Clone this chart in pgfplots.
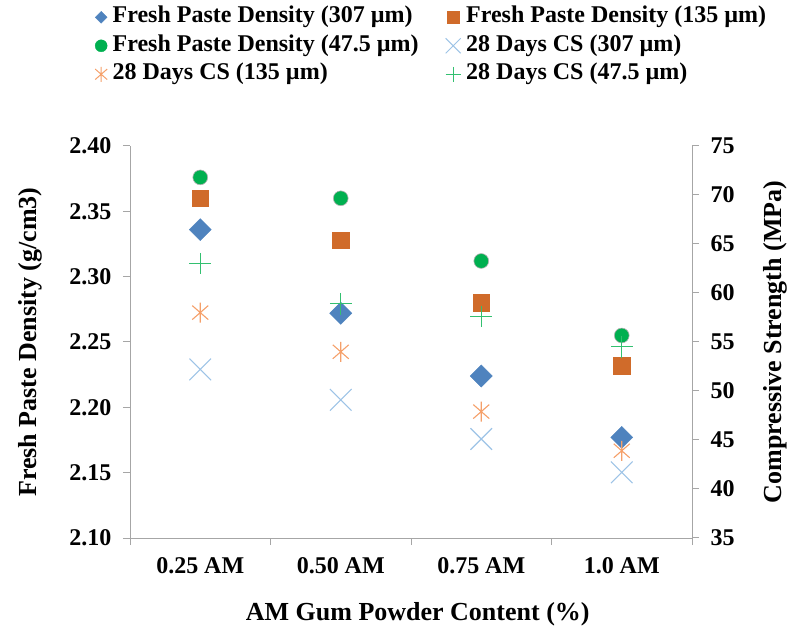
\documentclass[border=0pt]{standalone}
\usepackage{fontspec}
\setmainfont{Liberation Serif}
\usepackage{pgfplots}
\pgfplotsset{compat=1.18}
\definecolor{cDia}{HTML}{4F83BE}
\definecolor{cSq}{HTML}{D06B2A}
\definecolor{cCir}{HTML}{00B050}
\definecolor{cX}{HTML}{9DC3E6}
\definecolor{cAst}{HTML}{F5A06A}
\definecolor{cPlus}{HTML}{33C070}
\definecolor{axisgray}{HTML}{A6A6A6}
\pgfdeclareplotmark{excelstar}{%
  \pgfpathmoveto{\pgfqpoint{0pt}{\pgfplotmarksize}}%
  \pgfpathlineto{\pgfqpoint{0pt}{-\pgfplotmarksize}}%
  \pgfpathmoveto{\pgfqpoint{-.8\pgfplotmarksize}{.7\pgfplotmarksize}}%
  \pgfpathlineto{\pgfqpoint{.8\pgfplotmarksize}{-.7\pgfplotmarksize}}%
  \pgfpathmoveto{\pgfqpoint{-.8\pgfplotmarksize}{-.7\pgfplotmarksize}}%
  \pgfpathlineto{\pgfqpoint{.8\pgfplotmarksize}{.7\pgfplotmarksize}}%
  \pgfusepathqstroke}
\newcommand\tickfont{\fontsize{24bp}{28bp}\selectfont\bfseries}
\newcommand\labfont{\fontsize{26bp}{30bp}\selectfont\bfseries}
\pgfplotsset{
  common/.style={
    width=562bp, height=392bp, scale only axis,
    at={(130bp,93bp)}, anchor=south west,
    xmin=-0.5, xmax=3.5,
    axis line style={draw=axisgray, line width=1bp},
    tick style={draw=axisgray, line width=1bp},
    major tick length=7bp, tick align=outside,
    ticklabel style={font=\tickfont},
    /pgf/number format/assume math mode=true,
    label style={font=\labfont},
  },
}
\begin{document}
\begin{tikzpicture}
\path[use as bounding box] (0,0) rectangle (787bp,631bp);
\begin{axis}[common,
  axis x line*=bottom, axis y line*=left,
  ymin=2.10, ymax=2.40,
  ytick={2.10,2.15,2.20,2.25,2.30,2.35,2.40},
  yticklabel style={xshift=-8bp, /pgf/number format/.cd, fixed, fixed zerofill, precision=2},
  xtick={-0.5,0.5,1.5,2.5,3.5}, xticklabels={},
  extra x ticks={0,1,2,3},
  extra x tick labels={0.25 AM,0.50 AM,0.75 AM,1.0 AM},
  extra x tick style={major tick length=0pt, xticklabel style={yshift=-16bp}},
  xlabel={AM Gum Powder Content (\%)},
  xlabel style={at={(axis description cs:0.512,-0.1934)}, anchor=center},
  ylabel={Fresh Paste Density (g/cm3)},
  ylabel style={at={(axis description cs:-0.178,0.5)}, anchor=center},
  legend columns=2, legend cell align=left,
  legend style={at={(axis description cs:-0.0623,1.3556)}, anchor=north west,
    draw=none, fill=none, inner sep=0pt, font=\tickfont,
    row sep=7.5bp, column sep=5.5bp,
    /tikz/every even column/.append style={column sep=27bp},
    nodes={inner sep=0pt, text height=16bp, text depth=5bp}},
]
\addlegendimage{only marks, mark=square*, mark size=4.2bp, mark options={rotate=45, fill=cDia, draw=cDia}}
\addlegendentry{Fresh Paste Density (307 µm)}
\addlegendimage{only marks, mark=square*, mark size=6bp, mark options={fill=cSq, draw=cSq}}
\addlegendentry{Fresh Paste Density (135 µm)}
\addlegendimage{only marks, mark=*, mark size=6bp, mark options={fill=cCir, draw=cCir}}
\addlegendentry{Fresh Paste Density (47.5 µm)}
\addlegendimage{only marks, mark=x, mark size=10.6bp, mark options={draw=cX, line width=1bp}}
\addlegendentry{28 Days CS (307 µm)}
\addlegendimage{only marks, mark=excelstar, mark size=7.5bp, mark options={draw=cAst, line width=1bp}}
\addlegendentry{28 Days CS (135 µm)}
\addlegendimage{only marks, mark=+, mark size=7.5bp, mark options={draw=cPlus, line width=1bp}}
\addlegendentry{28 Days CS (47.5 µm)}
% Fresh paste density (307 um)
\addplot[forget plot, only marks, mark=square*, mark size=7.8bp, mark options={rotate=45, fill=cDia, draw=cDia}]
  coordinates {(0,2.336) (1,2.272) (2,2.224) (3,2.177)};
% Fresh paste density (135 um)
\addplot[forget plot, only marks, mark=square*, mark size=8.3bp, mark options={fill=cSq, draw=cSq}]
  coordinates {(0,2.360) (1,2.328) (2,2.280) (3,2.232)};
% Fresh paste density (47.5 um)
\addplot[forget plot, only marks, mark=*, mark size=7.4bp, mark options={fill=cCir, draw=gray!60, line width=0.6bp}]
  coordinates {(0,2.376) (1,2.360) (2,2.312) (3,2.255)};
\end{axis}
\begin{axis}[common,
  axis x line=none, axis y line*=right,
  ymin=35, ymax=75, ytick={35,40,45,50,55,60,65,70,75},
  yticklabel style={xshift=8bp},
  ylabel={Compressive Strength (MPa)},
  ylabel style={at={(axis description cs:1.1477,0.5)}, anchor=center, rotate=0},
]
% 28 days CS (307 um)
\addplot[only marks, mark=x, mark size=15.3bp, mark options={draw=cX, line width=1.1bp}]
  coordinates {(0,52.2) (1,49.1) (2,45.1) (3,41.7)};
% 28 days CS (135 um)
\addplot[only marks, mark=excelstar, mark size=10bp, mark options={draw=cAst, line width=1.1bp}]
  coordinates {(0,58.0) (1,54.0) (2,47.9) (3,43.9)};
% 28 days CS (47.5 um)
\addplot[only marks, mark=+, mark size=10.8bp, mark options={draw=cPlus, line width=1.1bp}]
  coordinates {(0,63.0) (1,58.9) (2,57.6) (3,54.5)};
\end{axis}
\end{tikzpicture}
\end{document}
